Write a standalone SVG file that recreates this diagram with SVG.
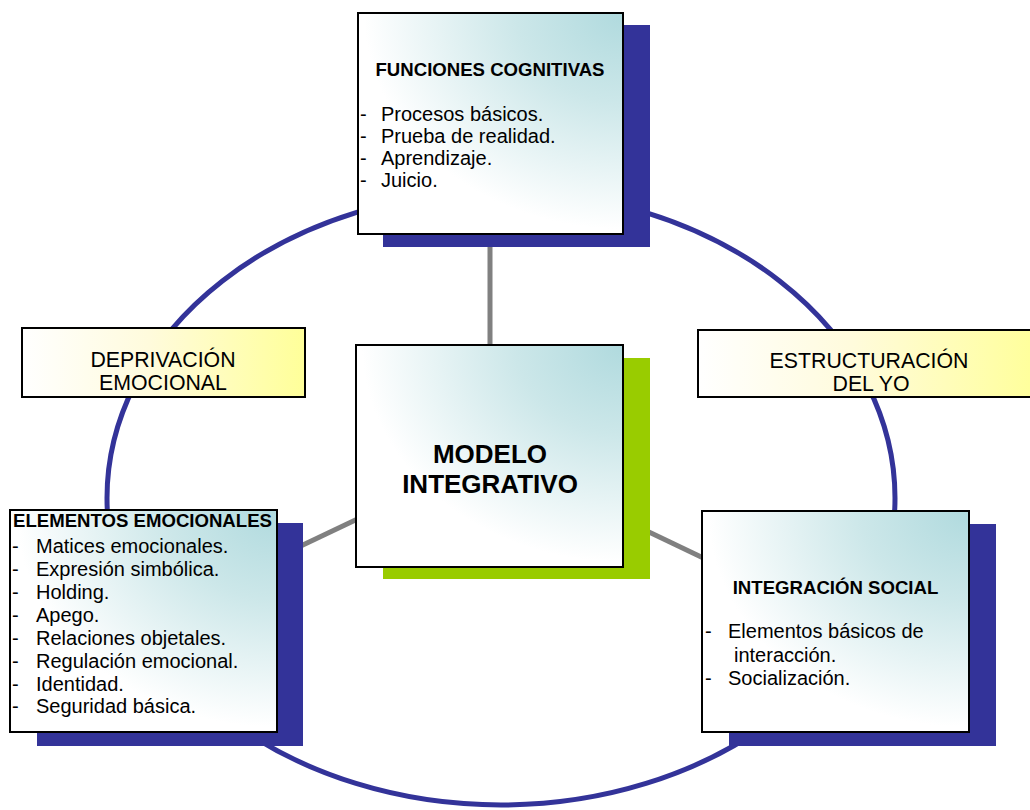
<svg xmlns="http://www.w3.org/2000/svg" width="1030" height="810" viewBox="0 0 1030 810">
  <defs>
    <radialGradient id="teal" cx="1" cy="0" r="1.15" gradientUnits="objectBoundingBox">
      <stop offset="0" stop-color="#b0dade"/>
      <stop offset="0.35" stop-color="#cce7e9"/>
      <stop offset="0.85" stop-color="#ffffff"/>
    </radialGradient>
    <linearGradient id="yellow" x1="0" y1="0" x2="1" y2="0">
      <stop offset="0" stop-color="#ffffff"/>
      <stop offset="0.45" stop-color="#fffbdc"/>
      <stop offset="1" stop-color="#ffff99"/>
    </linearGradient>
    <style>
      .ring { fill: none; stroke: #333399; stroke-width: 5; }
      .link { stroke: #808080; stroke-width: 5; }
      .navy { fill: #333399; }
      .green { fill: #99cc00; }
      .card { fill: url(#teal); stroke: #000; stroke-width: 2; }
      .tag { fill: url(#yellow); stroke: #000; stroke-width: 2; }
      text { font-family: "Liberation Sans", Arial, sans-serif; fill: #000; }
      .h { font-weight: bold; font-size: 18.6px; }
      .li { font-size: 20px; }
      .lbl { font-size: 21.3px; text-anchor: middle; }
      .big { font-weight: bold; font-size: 26px; text-anchor: middle; }
    </style>
  </defs>

  <!-- outer ring -->
  <ellipse class="ring" cx="501" cy="498" rx="394" ry="307"/>

  <!-- spokes from the centre -->
  <g id="connectors">
    <line class="link" x1="490" y1="456" x2="490" y2="124"/>
    <line class="link" x1="490" y1="456" x2="143" y2="621"/>
    <line class="link" x1="490" y1="456" x2="835" y2="621"/>
  </g>

  <g id="funciones-cognitivas">
    <rect class="navy" x="383" y="25" width="267" height="222"/>
    <rect class="card" x="358" y="13" width="265" height="221"/>
    <text class="h" x="490" y="76" text-anchor="middle">FUNCIONES COGNITIVAS</text>
    <text class="li" x="360" y="120.5">-</text><text class="li" x="381" y="120.5">Procesos básicos.</text>
    <text class="li" x="360" y="142.5">-</text><text class="li" x="381" y="142.5">Prueba de realidad.</text>
    <text class="li" x="360" y="164.5">-</text><text class="li" x="381" y="164.5">Aprendizaje.</text>
    <text class="li" x="360" y="186.5">-</text><text class="li" x="381" y="186.5">Juicio.</text>
  </g>

  <g id="deprivacion-emocional">
    <rect class="tag" x="22" y="328" width="283" height="69"/>
    <text class="lbl" x="163" y="367">DEPRIVACIÓN</text>
    <text class="lbl" x="163" y="390">EMOCIONAL</text>
  </g>

  <g id="estructuracion-del-yo">
    <rect class="tag" x="698" y="330" width="342" height="67"/>
    <text class="lbl" x="869" y="368">ESTRUCTURACIÓN</text>
    <text class="lbl" x="871" y="391">DEL YO</text>
  </g>

  <g id="modelo-integrativo">
    <rect class="green" x="383" y="358" width="267" height="221"/>
    <rect class="card" x="356" y="345" width="267" height="222"/>
    <text class="big" x="490" y="463">MODELO</text>
    <text class="big" x="490" y="493">INTEGRATIVO</text>
  </g>

  <g id="elementos-emocionales">
    <rect class="navy" x="37" y="523" width="266" height="223"/>
    <rect class="card" x="10" y="510" width="267" height="222"/>
    <text class="h" x="13" y="527">ELEMENTOS EMOCIONALES</text>
    <text class="li" x="12" y="553">-</text><text class="li" x="36" y="553">Matices emocionales.</text>
    <text class="li" x="12" y="576">-</text><text class="li" x="36" y="576">Expresión simbólica.</text>
    <text class="li" x="12" y="599">-</text><text class="li" x="36" y="599">Holding.</text>
    <text class="li" x="12" y="622">-</text><text class="li" x="36" y="622">Apego.</text>
    <text class="li" x="12" y="644.5">-</text><text class="li" x="36" y="644.5">Relaciones objetales.</text>
    <text class="li" x="12" y="667.5">-</text><text class="li" x="36" y="667.5">Regulación emocional.</text>
    <text class="li" x="12" y="690.5">-</text><text class="li" x="36" y="690.5">Identidad.</text>
    <text class="li" x="12" y="713">-</text><text class="li" x="36" y="713">Seguridad básica.</text>
  </g>

  <g id="integracion-social">
    <rect class="navy" x="729" y="524" width="267" height="222"/>
    <rect class="card" x="702" y="511" width="267" height="221"/>
    <text class="h" x="835.5" y="594" text-anchor="middle">INTEGRACIÓN SOCIAL</text>
    <text class="li" x="705" y="638">-</text><text class="li" x="728" y="638">Elementos básicos de</text>
    <text class="li" x="734" y="661.5">interacción.</text>
    <text class="li" x="705" y="684.5">-</text><text class="li" x="728" y="684.5">Socialización.</text>
  </g>
</svg>
